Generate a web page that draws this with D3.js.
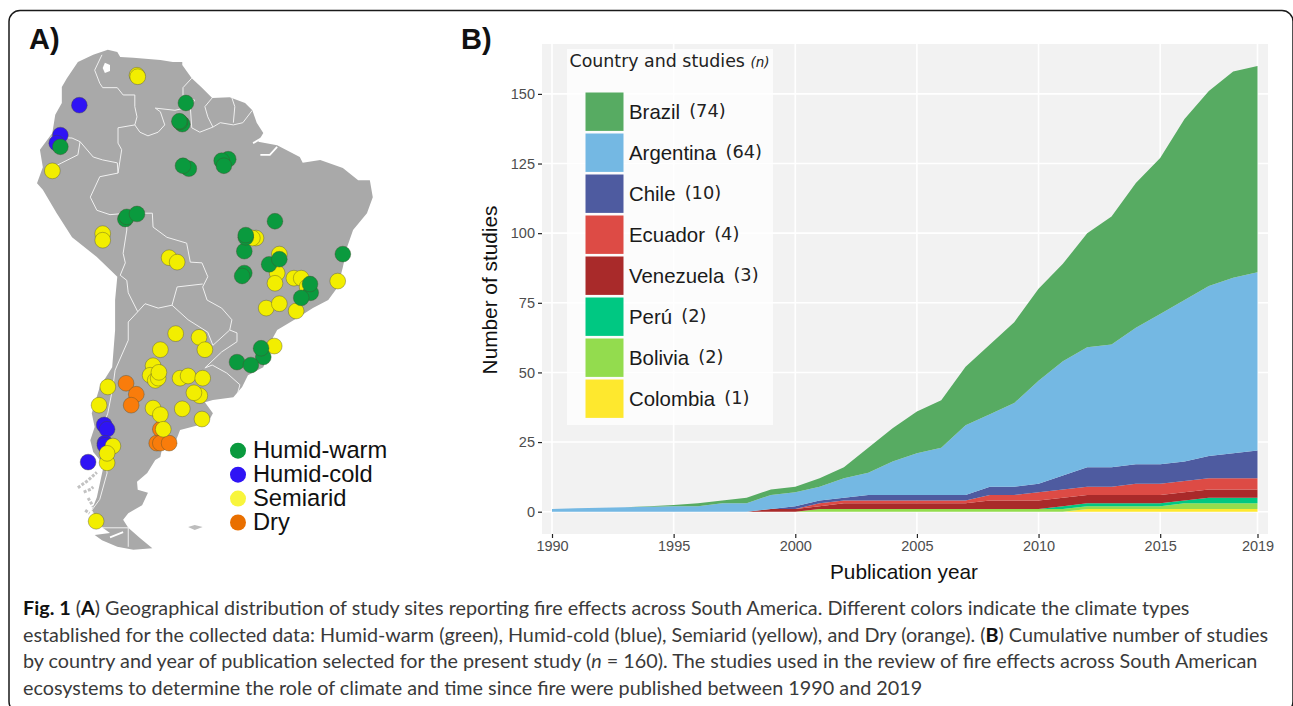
<!DOCTYPE html>
<html><head><meta charset="utf-8">
<script src="https://cdnjs.cloudflare.com/ajax/libs/d3/7.8.5/d3.min.js"></script>
<style>html,body{margin:0;padding:0;background:#fff;overflow:hidden}svg{display:block}</style>
</head><body><svg id="c" width="1293" height="706"></svg>
<script>
// ---------- Panel B data ----------
const years = d3.range(1990, 2020);
const countries = ["Colombia","Bolivia","Perú","Venezuela","Ecuador","Chile","Argentina","Brazil"];
const legendOrder = ["Brazil","Argentina","Chile","Ecuador","Venezuela","Perú","Bolivia","Colombia"];
const legendCounts = ["(74)","(64)","(10)","(4)","(3)","(2)","(2)","(1)"];
const colors = ["#fee82e","#93dc4e","#00c882","#a92a2a","#dd4b45","#4e5ba0","#74b8e3","#57ab62"];
const colombia = [0,0,0,0,0,0,0,0,0,0,0,0,0,0,0,0,0,0,0,0,0,0,1,1,1,1,1,1,1,1];
const bolivia  = [0,0,0,0,0,0,0,0,0,0,0,1,1,1,1,1,1,1,1,1,1,1,1,1,1,1,2,2,2,2];
const peru     = [0,0,0,0,0,0,0,0,0,0,0,0,0,0,0,0,0,0,0,0,0,1,1,1,1,1,1,2,2,2];
const venezuela= [0,0,0,0,0,0,0,0,0,1,1,1,2,2,2,2,2,2,3,3,3,3,3,3,3,3,3,3,3,3];
const ecuador  = [0,0,0,0,0,0,0,0,0,0,0,1,1,1,1,1,1,1,2,2,3,3,3,3,4,4,4,4,4,4];
const chile    = [0,0,0,0,0,0,0,0,0,0,1,1,1,2,2,2,2,2,3,3,3,5,7,7,7,7,7,8,9,10];
const argentina= [1,1.2,1.4,1.6,1.8,2,2,3,3,5,5,5,7,8,12,15,17,25,26,30,37,41,43,44,49,54,58,61,63,64];
const brazil   = [0,0,0,0,0.2,0.4,1,1,2,2,2,3,4,9,12,15,17,21,25,29,33,35,41,46,52,56,65,70,74,74];
const seriesValues = [colombia,bolivia,peru,venezuela,ecuador,chile,argentina,brazil];
const xTickYears = [1990,1995,2000,2005,2010,2015,2019];
const yTickValues = [0,25,50,75,100,125,150];

// ---------- Panel A data (lon, lat) ----------
const continent = [[-71.6,12.3],[-70.3,12],[-69.9,11.3],[-68.1,11.2],[-64.4,10.9],[-62.7,10.6],[-61.4,10.6],[-61.4,10.2],[-60.1,8.4],[-58.7,7.1],[-57.3,5.7],[-54.9,5.8],[-52.8,5],[-51.8,4],[-51.2,2.3],[-50.3,.9],[-51,-.3],[-48.4,-.8],[-45.3,-2.4],[-44.9,-3.2],[-42.5,-2.8],[-39.4,-3.9],[-37.3,-5.6],[-35.7,-5.6],[-35.3,-7.9],[-36.1,-10.1],[-38,-12.4],[-38.8,-14.7],[-39.4,-17.5],[-40.1,-20.2],[-41.4,-22],[-43.5,-23.1],[-45.7,-24.5],[-48.4,-26.1],[-49,-27.2],[-50.3,-31.2],[-52.4,-32.3],[-53.2,-33.9],[-54.4,-35.3],[-57.2,-35.7],[-58.3,-36],[-57.2,-37.5],[-57.9,-38.8],[-61.7,-39.8],[-62.4,-41.6],[-64.2,-42.5],[-64.4,-43.5],[-65.1,-43.9],[-66.2,-45.7],[-67.6,-46.9],[-67.5,-48],[-66.1,-48.4],[-66.9,-50.1],[-68.8,-51.2],[-69.5,-52.1],[-68.8,-53.2],[-67.2,-54.6],[-65.5,-56],[-68.1,-56.2],[-70.3,-55.8],[-72.4,-54.9],[-73.4,-54.2],[-71.3,-53.9],[-72.3,-53.2],[-73.1,-52.1],[-73.8,-50.8],[-73.1,-49],[-72.3,-45.3],[-72.1,-44.6],[-73.6,-42.8],[-74,-41.2],[-73.4,-39.4],[-73.8,-37.5],[-72.7,-33.9],[-71,-31.2],[-70.6,-26.1],[-70.6,-22],[-70.3,-18.8],[-73.1,-16.1],[-76.5,-13.4],[-78.6,-10.1],[-80.5,-6.9],[-81.3,-6],[-80.5,-3.8],[-80.9,-1.4],[-79.2,.9],[-78.8,3.4],[-77.9,5],[-77.9,7.2],[-77.2,8.4],[-75.7,10.6],[-73.6,11.6]];
const chileanIslands = [[[-75.7,-47.7],[-74.3,-46.7],[-73.1,-45.6]],[[-74.9,-48.3],[-73.9,-47.9],[-73.6,-47.6]],[[-74.3,-49.1],[-73.6,-50.3]],[[-74.7,-50.8],[-74.1,-51.2]]];
const falklands = [[-60.6,-53.1],[-59.7,-52.8],[-58.6,-53.1],[-59.7,-53.5]];
const maracaibo = [[-72,10.5],[-71.3,10.2],[-71.3,9.4],[-72,9.1],[-72.3,9.8]];
const whiteChannels = [[[-51.7,-.5],[-50.5,.2],[-49.1,-.3]],[[-50.7,-2.1],[-49.4,-2.1],[-48.4,-1]],[[-71.3,-54.5],[-69.5,-53.8]]];
const borders = [
 [[-72.4,11.6],[-73.4,9.5],[-72.7,7.7],[-72.3,7.1],[-70.3,7.1],[-69.5,6.1],[-67.9,6.1],[-67.9,4.5],[-67.6,3.1],[-67.9,2],[-67.2,1],[-66.1,.5],[-64.7,1],[-63.8,2],[-64.4,3.8],[-65.1,4.3],[-62.4,4],[-60.3,4.5],[-60.1,1.6],[-59,1],[-57.2,1.7],[-56.2,2.3],[-54.4,2],[-53.1,2.3],[-51.8,4]],
 [[-60.1,8.4],[-61.3,7.1],[-61.3,5.8],[-59.7,5.4],[-60.3,4.5]],
 [[-57.3,5.7],[-58.3,4.5],[-57.9,3.1],[-57.2,1.7]],
 [[-54.6,5.7],[-54.2,4.5],[-54.4,2.3]],
 [[-67.9,2],[-70.2,1.6],[-70.2,-.5],[-69.7,-1.4],[-70.2,-4.6]],
 [[-79.5,.3],[-76.5,.2],[-75.4,-.3],[-73.6,-2.4],[-72.3,-2.8],[-70.3,-3.2],[-70.2,-4.6]],
 [[-75.4,-.3],[-75.7,-2.1],[-77.9,-3.2],[-79.9,-4.2]],
 [[-70.2,-4.6],[-72.7,-5.1],[-74,-7.9],[-73.1,-9.7],[-71.3,-10.3],[-69,-10.1]],
 [[-69,-10.1],[-66.5,-10.1],[-65.5,-10.1],[-65.4,-12],[-63.5,-13.4],[-60.8,-14.2],[-60.3,-16.8],[-58.7,-16.9],[-57.9,-18.8],[-58.6,-20.2],[-58,-22],[-56,-23.1],[-54.6,-24.7],[-54.9,-26.1]],
 [[-69,-10.1],[-69,-12.4],[-69.5,-15.6],[-69.2,-16.9],[-69.9,-18.6],[-69,-19.3],[-68.8,-21],[-67.5,-23.6]],
 [[-67.5,-23.6],[-68.8,-25],[-68.8,-27.5],[-70.6,-31.6],[-70.9,-33.9],[-71.6,-37.5],[-72.3,-39.4],[-71.7,-45.7],[-72.7,-49.3],[-73.8,-50.8],[-73.1,-52.1],[-72.3,-53.2],[-68.8,-53.2],[-68.8,-55.8]],
 [[-67.5,-23.6],[-66.5,-22.5],[-64.7,-23.1],[-62.8,-22.7]],
 [[-62.8,-22.7],[-62.1,-20.2],[-58.6,-19.8]],
 [[-62.8,-22.7],[-60.6,-24.7],[-57.9,-26.4],[-57.2,-28.2],[-54.9,-26.1]],
 [[-54.9,-26.1],[-53.9,-26.5],[-53.9,-27.7],[-56,-29.1],[-58.3,-31.3]],
 [[-58.3,-31.3],[-57.3,-30.9],[-55.3,-32],[-53.5,-33.6],[-53.8,-34.7]]
];
const drySites = [[-69.1,-33.4],[-67.7,-34.9],[-68.4,-36.4],[-64.4,-39.7],[-64.9,-41.6],[-64.4,-41.6],[-63.2,-41.6]];
const humidColdSites = [[-75.5,4.7],[-78.1,.6],[-78.6,-.5],[-72.1,-39.1],[-71.7,-39.7],[-72,-41.6],[-72,-41.9],[-74.3,-44.2]];
const semiaridSites = [[-67.6,8.8],[-67.5,8.6],[-79.2,-4.3],[-72.3,-12.9],[-72.3,-13.8],[-63.2,-16.2],[-62.1,-16.8],[-51.3,-13.5],[-51.8,-13.5],[-48.1,-15.7],[-48.4,-18.3],[-48.7,-19.7],[-46.1,-19],[-45.1,-19],[-40.1,-19.4],[-44.3,-20.2],[-49.9,-23.1],[-48.1,-22.5],[-45.8,-23.5],[-62.3,-26.6],[-59.1,-27.1],[-58.3,-28.8],[-64.4,-28.8],[-65.4,-31],[-65.8,-32.3],[-65.1,-33],[-64.7,-32.7],[-64.6,-31.9],[-61.7,-32.7],[-60.6,-32.4],[-58.6,-32.7],[-48.8,-28.3],[-59,-35.1],[-59.8,-34.7],[-61.4,-36.9],[-58.7,-38.3],[-65.4,-36.8],[-64.4,-37.7],[-64,-39.7],[-71.6,-33.9],[-72.8,-36.4],[-70.9,-42],[-71.7,-44.3],[-71.7,-43],[-73.2,-52.3]];
const humidWarmSites = [[-60.9,5],[-61.4,2.1],[-61.7,2.4],[-61.8,2.5],[-60.5,-4],[-61.3,-3.6],[-55.1,-2.7],[-56,-2.9],[-55.7,-3.6],[-69.2,-10.9],[-69,-10.6],[-67.6,-10.2],[-48.7,-11.2],[-52.9,-15.3],[-52.7,-13.4],[-52.7,-13.1],[-52.9,-18.3],[-53.2,-18.7],[-49.5,-17.1],[-48.1,-16.4],[-39.4,-15.7],[-43.8,-21],[-43.9,-19.8],[-45.1,-21.7],[-50.3,-29.8],[-50.6,-28.6],[-53.9,-30.5],[-52,-30.9],[-78.1,-1]];
const climateNames = ["Humid-warm","Humid-cold","Semiarid","Dry"];
const climateSwatches = ["#0a9a3e","#2f14f5","#f8f53c","#e96f00"];
const captionLines = [
 [["Fig. 1",1],[" (",0],["A",1],[") Geographical distribution of study sites reporting fire effects across South America. Different colors indicate the climate types",0]],
 [["established for the collected data: Humid-warm (green), Humid-cold (blue), Semiarid (yellow), and Dry (orange). (",0],["B",1],[") Cumulative number of studies",0]],
 [["by country and year of publication selected for the present study (",0],["n",2],[" = 160). The studies used in the review of fire effects across South American",0]],
 [["ecosystems to determine the role of climate and time since fire were published between 1990 and 2019",0]]
];

const svg = d3.select("#c");
const ARIAL = "'Liberation Sans',Arial,sans-serif";

// frame
svg.append("rect").attr("x",9).attr("y",10.5).attr("width",1284).attr("height",702).attr("rx",11)
  .attr("fill","#fff").attr("stroke","#1a1a1a").attr("stroke-width",1.5);

// ---------- Panel A ----------
const lon = d3.scaleLinear().domain([-85,-30]).range([10,10+55/0.137]);
const lat = d3.scaleLinear().domain([15,-60]).range([30,30+75/0.137]);
const geo = d3.line().x(d=>lon(d[0])).y(d=>lat(d[1]));
const gA = svg.append("g");
gA.append("path").attr("d",geo(continent)+"Z").attr("fill","#a9a9a9");
chileanIslands.forEach(l=>gA.append("path").attr("d",geo(l)).attr("fill","none").attr("stroke","#c2c2c2").attr("stroke-width",3).attr("stroke-dasharray","3 1.5"));
gA.append("path").attr("d",geo(falklands)+"Z").attr("fill","#bdbdbd");
gA.append("path").attr("d",geo(maracaibo)+"Z").attr("fill","#fff");
whiteChannels.forEach(l=>gA.append("path").attr("d",geo(l)).attr("fill","none").attr("stroke","#fff").attr("stroke-width",1.8));
gA.selectAll("path.b").data(borders).join("path").attr("class","b").attr("d",geo)
  .attr("fill","none").attr("stroke","#f0f0f0").attr("stroke-width",1);
[[drySites,"#f97c0b"],[humidColdSites,"#2f14f5"],[semiaridSites,"#f2ee00"],[humidWarmSites,"#0a9a3e"]].forEach(([sites,col])=>{
  gA.append("g").selectAll("circle").data(sites).join("circle")
    .attr("cx",d=>lon(d[0])).attr("cy",d=>lat(d[1])).attr("r",7.9)
    .attr("fill",col).attr("stroke","#4a4a30").attr("stroke-opacity",.55).attr("stroke-width",.7);
});
const climY = d3.scalePoint().domain(climateNames).range([450.7,522.5]);
const gL = svg.append("g");
gL.selectAll("circle").data(climateNames).join("circle")
  .attr("cx",238).attr("cy",d=>climY(d)).attr("r",8)
  .attr("fill",(d,i)=>climateSwatches[i]);
gL.selectAll("text").data(climateNames).join("text")
  .attr("x",253).attr("y",d=>climY(d)+7).attr("font-family",ARIAL).attr("font-size",23.7).attr("fill","#111").text(d=>d);
svg.append("text").attr("x",29).attr("y",49).attr("font-family",ARIAL).attr("font-weight",700).attr("font-size",29).attr("fill","#111").text("A)");
svg.append("text").attr("x",461).attr("y",49).attr("font-family",ARIAL).attr("font-weight",700).attr("font-size",29).attr("fill","#111").text("B)");

// ---------- Panel B ----------
const P = {l:542,r:1268,t:44,b:534};
const x = d3.scaleLinear().domain([1990,2019]).range([552,1257.5]);
const y = d3.scaleLinear().domain([0,150]).range([511.7,93.9]);
const gB = svg.append("g");
gB.append("rect").attr("x",P.l).attr("y",P.t).attr("width",P.r-P.l).attr("height",P.b-P.t).attr("fill","#f2f2f2");
gB.selectAll("line.gx").data(xTickYears).join("line").attr("class","gx")
  .attr("x1",d=>x(d)).attr("x2",d=>x(d)).attr("y1",P.t).attr("y2",P.b).attr("stroke","#fff").attr("stroke-width",1.6);
gB.selectAll("line.gy").data(yTickValues).join("line").attr("class","gy")
  .attr("y1",d=>y(d)).attr("y2",d=>y(d)).attr("x1",P.l).attr("x2",P.r).attr("stroke","#fff").attr("stroke-width",1.6);

const table = years.map((yr,i)=>{const r={year:yr};countries.forEach((c,k)=>r[c]=seriesValues[k][i]);return r;});
const stacked = d3.stack().keys(countries)(table);
const area = d3.area().x(d=>x(d.data.year)).y0(d=>y(d[0])).y1(d=>y(d[1]));
gB.selectAll("path.a").data(stacked).join("path").attr("class","a").attr("d",area).attr("fill",(d,i)=>colors[i]);

const axX = gB.append("g").attr("transform",`translate(0,${P.b})`)
  .call(d3.axisBottom(x).tickValues(xTickYears).tickFormat(d3.format("d")).tickSize(4).tickPadding(3));
const axY = gB.append("g").attr("transform",`translate(${P.l},0)`)
  .call(d3.axisLeft(y).tickValues(yTickValues).tickSize(4).tickPadding(3));
[axX,axY].forEach(a=>{a.select(".domain").remove();
  a.selectAll("line").attr("stroke","#222").attr("stroke-width",1.2);
  a.selectAll("text").attr("font-family",ARIAL).attr("font-size",14.5).attr("fill","#4d4d4d");});
gB.append("text").attr("x",904).attr("y",579).attr("text-anchor","middle").attr("font-family",ARIAL).attr("font-size",20.8).attr("fill","#111").text("Publication year");
gB.append("text").attr("transform","translate(497,290) rotate(-90)").attr("text-anchor","middle").attr("font-family",ARIAL).attr("font-size",20.8).attr("fill","#111").text("Number of studies");

// legend
const gK = svg.append("g");
gK.append("rect").attr("x",567).attr("y",49).attr("width",206).attr("height",376).attr("fill","#fff").attr("fill-opacity",.72);
const t = gK.append("text").attr("x",569.5).attr("y",67).attr("font-family","'DejaVu Sans',sans-serif").attr("font-size",15.6).attr("fill","#222");
t.append("tspan").attr("font-size",17.4).text("Country and studies ");
t.append("tspan").attr("font-size",13.5).attr("font-style","italic").text("(n)");
const keyY = d3.scaleBand().domain(legendOrder).range([91.5,419.5]).paddingInner(.0);
const colorOf = c=>colors[countries.indexOf(c)];
gK.selectAll("rect.k").data(legendOrder).join("rect").attr("class","k")
  .attr("x",585.5).attr("width",38).attr("y",d=>keyY(d)+1).attr("height",keyY.bandwidth()-2.6).attr("fill",colorOf);
const lab = gK.selectAll("text.k").data(legendOrder).join("text").attr("class","k")
  .attr("x",629).attr("y",d=>keyY(d)+keyY.bandwidth()/2+7).attr("font-family",ARIAL).attr("font-size",20.4).attr("fill","#1a1a1a");
lab.append("tspan").text(d=>d+" ");
lab.append("tspan").attr("dx",3.5).attr("dy",-2.5).attr("font-family","'DejaVu Sans',sans-serif").attr("font-size",17.8).attr("fill","#222")
  .text((d,i)=>legendCounts[i]);

// caption
const capY = d3.scaleLinear().domain([0,3]).range([615,695]);
captionLines.forEach((parts,i)=>{
  const tx = svg.append("text").attr("x",23).attr("y",capY(i)).attr("font-family","Lato,sans-serif").attr("font-size",19.8).attr("fill","#3a3a3a");
  parts.forEach(([s,f])=>{
    const sp = tx.append("tspan").text(s);
    if(f===1) sp.attr("font-weight",700).attr("fill","#111");
    if(f===2) sp.attr("font-style","italic");
  });
});
</script></body></html>
